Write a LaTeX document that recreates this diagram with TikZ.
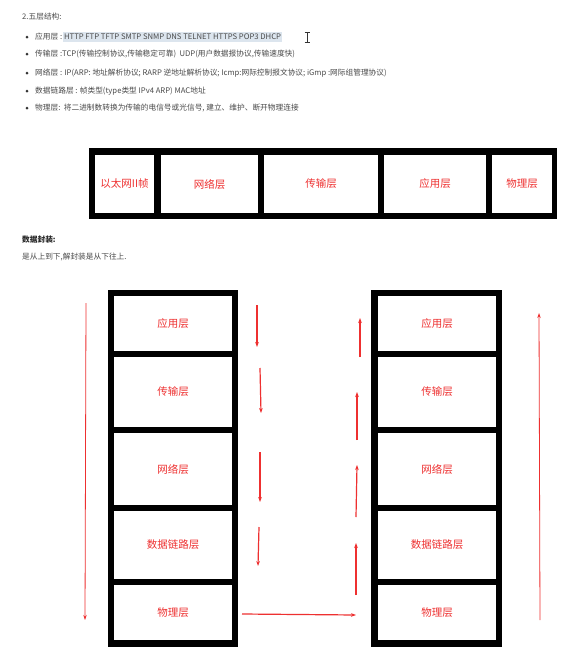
\documentclass[tikz,border=0pt]{standalone}
\usepackage{fontspec}
\setmainfont{Noto Sans CJK SC}
\usetikzlibrary{arrows.meta}
\definecolor{txt}{HTML}{4A4A4A}
\definecolor{lr}{HTML}{EE3030}
\definecolor{hl}{HTML}{DCE5EE}
\begin{document}
\begin{tikzpicture}[x=1pt,y=-1pt,
  txtn/.style={anchor=west, inner sep=0pt, text=txt, font=\fontsize{7.7}{9}\selectfont},
  cell/.style={fill=white, inner sep=0pt, text=lr, font=\fontsize{10.5}{12}\selectfont},
  arr/.style={draw=lr, line width=1.2pt, -{Stealth[length=5pt,width=3.6pt]}},
  thinarr/.style={draw=lr, line width=0.8pt, -{Stealth[length=5pt,width=3.4pt]}},
  bullet/.style={circle, fill=black!80, inner sep=0pt, minimum size=3pt}]
\useasboundingbox (0,0) rectangle (575,653);
\fill[white] (0,0) rectangle (575,653);

% ---- text block ----
\node[txtn] (title) at (22,17) {2.五层结构:};
\node[bullet] (b1) at (27,37) {};
\node[bullet] (b2) at (27,54) {};
\node[bullet] (b3) at (27,73) {};
\node[bullet] (b4) at (27,91) {};
\node[bullet] (b5) at (27,108) {};
\node[txtn] (l1a) at (35,37) {应用层 :};
\node[txtn, fill=hl, inner xsep=1pt, inner ysep=1.8pt, anchor=west] (l1b) at ([xshift=0.5pt]l1a.east) {HTTP FTP TFTP SMTP SNMP DNS TELNET HTTPS POP3 DHCP};
\node[txtn] (l2) at (35,54) {传输层 :TCP(传输控制协议,传输稳定可靠)\ \ UDP(用户数据报协议,传输速度快)};
\node[txtn] (l3) at (35,73) {网络层 : IP(ARP: 地址解析协议; RARP 逆地址解析协议; Icmp:网际控制报文协议; iGmp :网际组管理协议)};
\node[txtn] (l4) at (35,91) {数据链路层 : 帧类型(type类型 IPv4 ARP) MAC地址};
\node[txtn] (l5) at (35,108) {物理层:\ \ 将二进制数转换为传输的电信号或光信号, 建立、维护、断开物理连接};
% cursor
\draw[black!80, line width=0.6pt] (307,32) -- (307,42) (304.5,32) -- (309.5,32) (304.5,42) -- (309.5,42);

\node[txtn, font=\fontsize{7.7}{9}\selectfont\bfseries, text=black!85] (h2) at (22,240) {数据封装:};
\node[txtn] (p2) at (22,257) {是从上到下,解封装是从下往上.};

% ---- top frame ----
\fill[black] (89,148) rectangle (557,219);
\node[cell, minimum width=59pt, minimum height=58pt] (f1) at (124.5,184) {以太网II帧};
\node[cell, minimum width=97pt, minimum height=58pt] (f2) at (209.5,184) {网络层};
\node[cell, minimum width=114pt, minimum height=58pt] (f3) at (321,184) {传输层};
\node[cell, minimum width=102pt, minimum height=58pt] (f4) at (435,184) {应用层};
\node[cell, minimum width=60pt, minimum height=58pt] (f5) at (522,184) {物理层};

% ---- left stack ----
\fill[black] (108,290) rectangle (238,647);
\node[cell, minimum width=118pt, minimum height=55pt] (L1) at (173,323.5) {应用层};
\node[cell, minimum width=118pt, minimum height=70pt] (L2) at (173,392) {传输层};
\node[cell, minimum width=118pt, minimum height=72pt] (L3) at (173,469) {网络层};
\node[cell, minimum width=118pt, minimum height=68pt] (L4) at (173,545) {数据链路层};
\node[cell, minimum width=118pt, minimum height=55pt] (L5) at (173,612.5) {物理层};

% ---- right stack ----
\fill[black] (371,290) rectangle (502,647);
\node[cell, minimum width=118pt, minimum height=55pt] (R1) at (437,323.5) {应用层};
\node[cell, minimum width=118pt, minimum height=70pt] (R2) at (437,392) {传输层};
\node[cell, minimum width=118pt, minimum height=72pt] (R3) at (437,469) {网络层};
\node[cell, minimum width=118pt, minimum height=68pt] (R4) at (437,545) {数据链路层};
\node[cell, minimum width=118pt, minimum height=55pt] (R5) at (437,612.5) {物理层};

% ---- arrows ----
\coordinate (ls) at (86,303); \coordinate (le) at (85,620);
\draw[thinarr] (ls) -- (le);
\coordinate (d1s) at (257,305); \coordinate (d1e) at (257,347);
\coordinate (d2s) at (260,368); \coordinate (d2e) at (261,413);
\coordinate (d3s) at (260,452); \coordinate (d3e) at (260,502);
\coordinate (d4s) at (259,527); \coordinate (d4e) at (258,566);
\draw[arr] (d1s) -- (d1e);
\draw[arr] (d2s) -- (d2e);
\draw[arr] (d3s) -- (d3e);
\draw[arr] (d4s) -- (d4e);
\coordinate (hs) at (242,614); \coordinate (he) at (356,615);
\draw[arr] (hs) -- (he);
\coordinate (u1s) at (360,357); \coordinate (u1e) at (360,318);
\coordinate (u2s) at (357,440); \coordinate (u2e) at (357,392);
\coordinate (u3s) at (356,517); \coordinate (u3e) at (357,465);
\coordinate (u4s) at (356,595); \coordinate (u4e) at (356,543);
\draw[arr] (u1s) -- (u1e);
\draw[arr] (u2s) -- (u2e);
\draw[arr] (u3s) -- (u3e);
\draw[arr] (u4s) -- (u4e);
\coordinate (rs) at (540,620); \coordinate (re) at (539,313);
\draw[thinarr] (rs) -- (re);
\end{tikzpicture}
\end{document}
